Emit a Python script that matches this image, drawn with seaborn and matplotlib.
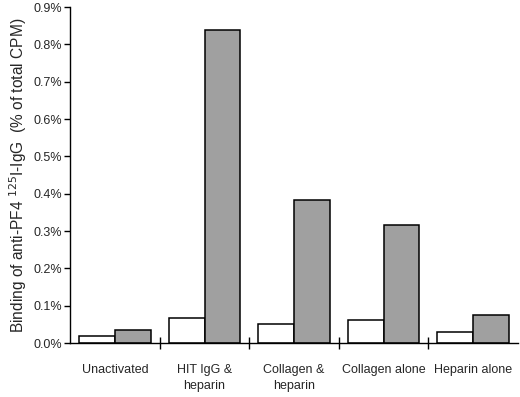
import numpy as np
import pandas as pd
import matplotlib
matplotlib.use("Agg")
import matplotlib.pyplot as plt
import seaborn as sns
from matplotlib.ticker import FuncFormatter

# ── Data (percent of total CPM) ─────────────────────────────────────────────
CATEGORIES = ["Unactivated", "HIT IgG &\nheparin", "Collagen &\nheparin",
              "Collagen alone", "Heparin alone"]
WHITE_VALS = [0.019, 0.068, 0.051, 0.062, 0.030]
GRAY_VALS  = [0.035, 0.838, 0.383, 0.316, 0.076]
SERIES     = ["control", "treated"]

df = pd.DataFrame({
    "condition": CATEGORIES * 2,
    "value": WHITE_VALS + GRAY_VALS,
    "series": [SERIES[0]] * len(CATEGORIES) + [SERIES[1]] * len(CATEGORIES),
})

sns.set_style("white")
plt.rcParams["font.family"] = ["Liberation Sans", "DejaVu Sans"]

fig = plt.figure(figsize=(5.2, 3.97), dpi=100)
ax = fig.add_axes([0.135, 0.136, 0.861, 0.846])

sns.barplot(data=df, x="condition", y="value", hue="series",
            palette=["white", "#a0a0a0"], edgecolor="black", linewidth=1.1,
            width=0.8, ax=ax, legend=False)

ax.set_xlim(-0.5, 4.5)
ax.set_ylim(0, 0.9)
ax.set_yticks(np.arange(0, 0.91, 0.1))
ax.yaxis.set_major_formatter(FuncFormatter(lambda v, _: f"{v:.1f}%"))
ax.tick_params(axis="y", direction="out", length=4, width=1, color="black",
               labelsize=9, left=True, pad=2)

# category labels without marks, boundary marks as minor ticks
ax.set_xticks(range(len(CATEGORIES)))
ax.set_xticklabels(CATEGORIES, linespacing=1.5)
ax.tick_params(axis="x", which="major", length=0, labelsize=9, pad=15)
ax.set_xticks([0.5, 1.5, 2.5, 3.5], minor=True)
ax.tick_params(axis="x", which="minor", direction="inout", length=9,
               width=1, color="black", bottom=True)

ax.set_xlabel("")
ax.set_ylabel(r"Binding of anti-PF4 $^{125}$I-IgG  (% of total CPM)",
              fontsize=11.2, labelpad=3)

for side in ["top", "right"]:
    ax.spines[side].set_visible(False)
for side in ["left", "bottom"]:
    ax.spines[side].set_color("black")
    ax.spines[side].set_linewidth(1)

fig.savefig("out.png", dpi=100)
